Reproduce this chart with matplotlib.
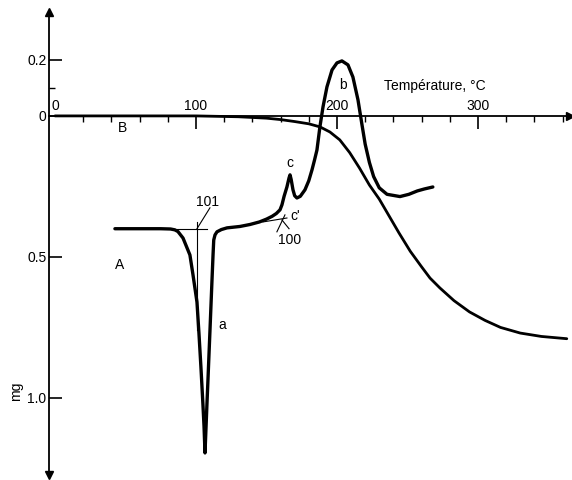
import matplotlib
matplotlib.use("Agg")
import matplotlib.pyplot as plt

plt.rcParams['font.family'] = ['Liberation Sans', 'DejaVu Sans']

# TG curve (B)
tg_x = [0, 100, 130, 150, 160, 170, 180, 188, 195, 202, 209, 216, 223, 230, 237,
        244, 252, 260, 266, 273, 283, 294, 305, 316, 330, 345, 363]
tg_y = [0, 0, 0.003, 0.008, 0.013, 0.02, 0.028, 0.039, 0.057, 0.085, 0.13, 0.185,
        0.245, 0.295, 0.355, 0.415, 0.48, 0.535, 0.575, 0.61, 0.655, 0.695, 0.725,
        0.75, 0.77, 0.782, 0.79]

# DTA curve (A)
dta_x = [42.5, 60, 75, 82, 85, 87.2, 90.8, 95.7, 97.9, 100.7, 102.1, 103.5, 104.9,
         105.7, 106.4, 107.8, 108.5, 109.9, 111.3, 112.1, 112.6, 113.5, 114.9, 118,
         122.0, 131.2, 138.3, 145, 150, 154, 157, 159.6, 161, 162.5, 164.5, 166,
         166.7, 167.5, 168.8, 170, 171.6, 174, 177.3, 180, 182.3, 184, 185.8, 187.9,
         190.1, 192.9, 196.5, 200.0, 203.5, 207.8, 211.3, 214.9, 217.7, 220, 223,
         226, 230, 235.5, 244.7, 251, 257, 262, 268]
dta_y = [0.40, 0.40, 0.40, 0.401, 0.404, 0.41, 0.433, 0.493, 0.564, 0.66, 0.77,
         0.89, 1.02, 1.10, 1.195, 1.02, 0.936, 0.764, 0.59, 0.493, 0.44, 0.422,
         0.411, 0.403, 0.397, 0.392, 0.385, 0.376, 0.366, 0.356, 0.346, 0.333,
         0.315, 0.285, 0.252, 0.22, 0.209, 0.225, 0.262, 0.283, 0.291, 0.285,
         0.262, 0.23, 0.191, 0.158, 0.121, 0.039, -0.032, -0.103, -0.163, -0.188,
         -0.195, -0.181, -0.138, -0.057, 0.03, 0.1, 0.165, 0.215, 0.255, 0.278,
         0.286, 0.278, 0.266, 0.259, 0.252]

x_major = [0, 100, 200, 300]
x_major_labels = ['0', '100', '200', '300']
x_minor = [20, 40, 60, 80, 120, 140, 160, 180, 220, 240, 260, 280, 320, 340, 360]
y_major = [-0.2, 0, 0.5, 1.0]
y_major_labels = ['0.2', '0', '0.5', '1.0']
y_minor = [-0.1]

fig = plt.figure(figsize=(5.72, 4.80), dpi=100)
ax = fig.add_axes([0, 0, 1, 1])
ax.set_xlim(-39, 366.7)
ax.set_ylim(1.291, -0.411)

# axes
ax.spines['right'].set_visible(False)
ax.spines['bottom'].set_visible(False)
ax.spines['top'].set_position(('data', 0))
ax.spines['top'].set_bounds(-4, 364)
ax.spines['left'].set_position(('data', -4))
ax.spines['left'].set_bounds(-0.37, 1.27)
for s in ('top', 'left'):
    ax.spines[s].set_linewidth(1.3)

ax.plot([365], [0], marker='>', color='black', markersize=6, clip_on=False)
ax.plot([-4], [-0.37], marker='^', color='black', markersize=6, clip_on=False)
ax.plot([-4], [1.275], marker='v', color='black', markersize=6, clip_on=False)

ax.xaxis.set_ticks_position('top')
ax.set_xticks(x_major)
ax.set_xticklabels(x_major_labels)
ax.set_xticks(x_minor, minor=True)
ax.tick_params(axis='x', which='major', direction='in', length=9, width=1.2,
               pad=2, labelsize=10, top=True, bottom=False, labeltop=True,
               labelbottom=False)
ax.tick_params(axis='x', which='minor', direction='in', length=4, width=1.0,
               top=True, bottom=False)
ax.xaxis.get_major_ticks()[0].tick2line.set_visible(False)

ax.set_yticks(y_major)
ax.set_yticklabels(y_major_labels)
ax.set_yticks(y_minor, minor=True)
ax.tick_params(axis='y', which='major', direction='in', length=9, width=1.2,
               pad=2, labelsize=10)
ax.tick_params(axis='y', which='minor', direction='in', length=4, width=1.0)

# curves
ax.plot(tg_x, tg_y, color='black', lw=2.0, solid_capstyle='round',
        solid_joinstyle='round')
ax.plot(dta_x, dta_y, color='black', lw=2.4, solid_capstyle='round',
        solid_joinstyle='round')

# construction lines
thin = dict(color='black', lw=0.8)
ax.plot([83, 107.8], [0.40, 0.40], **thin)
ax.plot([100.7, 100.7], [0.376, 0.76], **thin)
ax.plot([100.7, 109.9], [0.40, 0.326], **thin)
ax.plot([147.5, 164.5], [0.376, 0.362], **thin)
ax.plot([157.4, 163.1], [0.411, 0.351], **thin)
ax.plot([161, 166], [0.369, 0.40], **thin)

# labels
fs = 10
ax.text(108.5, 0.305, '101', ha='center', va='center', fontsize=fs)
ax.text(166.7, 0.44, '100', ha='center', va='center', fontsize=fs)
ax.text(170.5, 0.355, "c'", ha='center', va='center', fontsize=fs)
ax.text(166.7, 0.167, 'c', ha='center', va='center', fontsize=fs)
ax.text(204.3, -0.11, 'b', ha='center', va='center', fontsize=fs)
ax.text(118.4, 0.741, 'a', ha='center', va='center', fontsize=fs)
ax.text(46.1, 0.528, 'A', ha='center', va='center', fontsize=fs)
ax.text(48.2, 0.043, 'B', ha='center', va='center', fontsize=fs)
ax.text(269.5, -0.106, 'Température, °C', ha='center', va='center', fontsize=fs)
ax.text(-27.5, 0.978, 'mg', ha='center', va='center', fontsize=fs, rotation=90)

fig.savefig('out.png', dpi=100)
